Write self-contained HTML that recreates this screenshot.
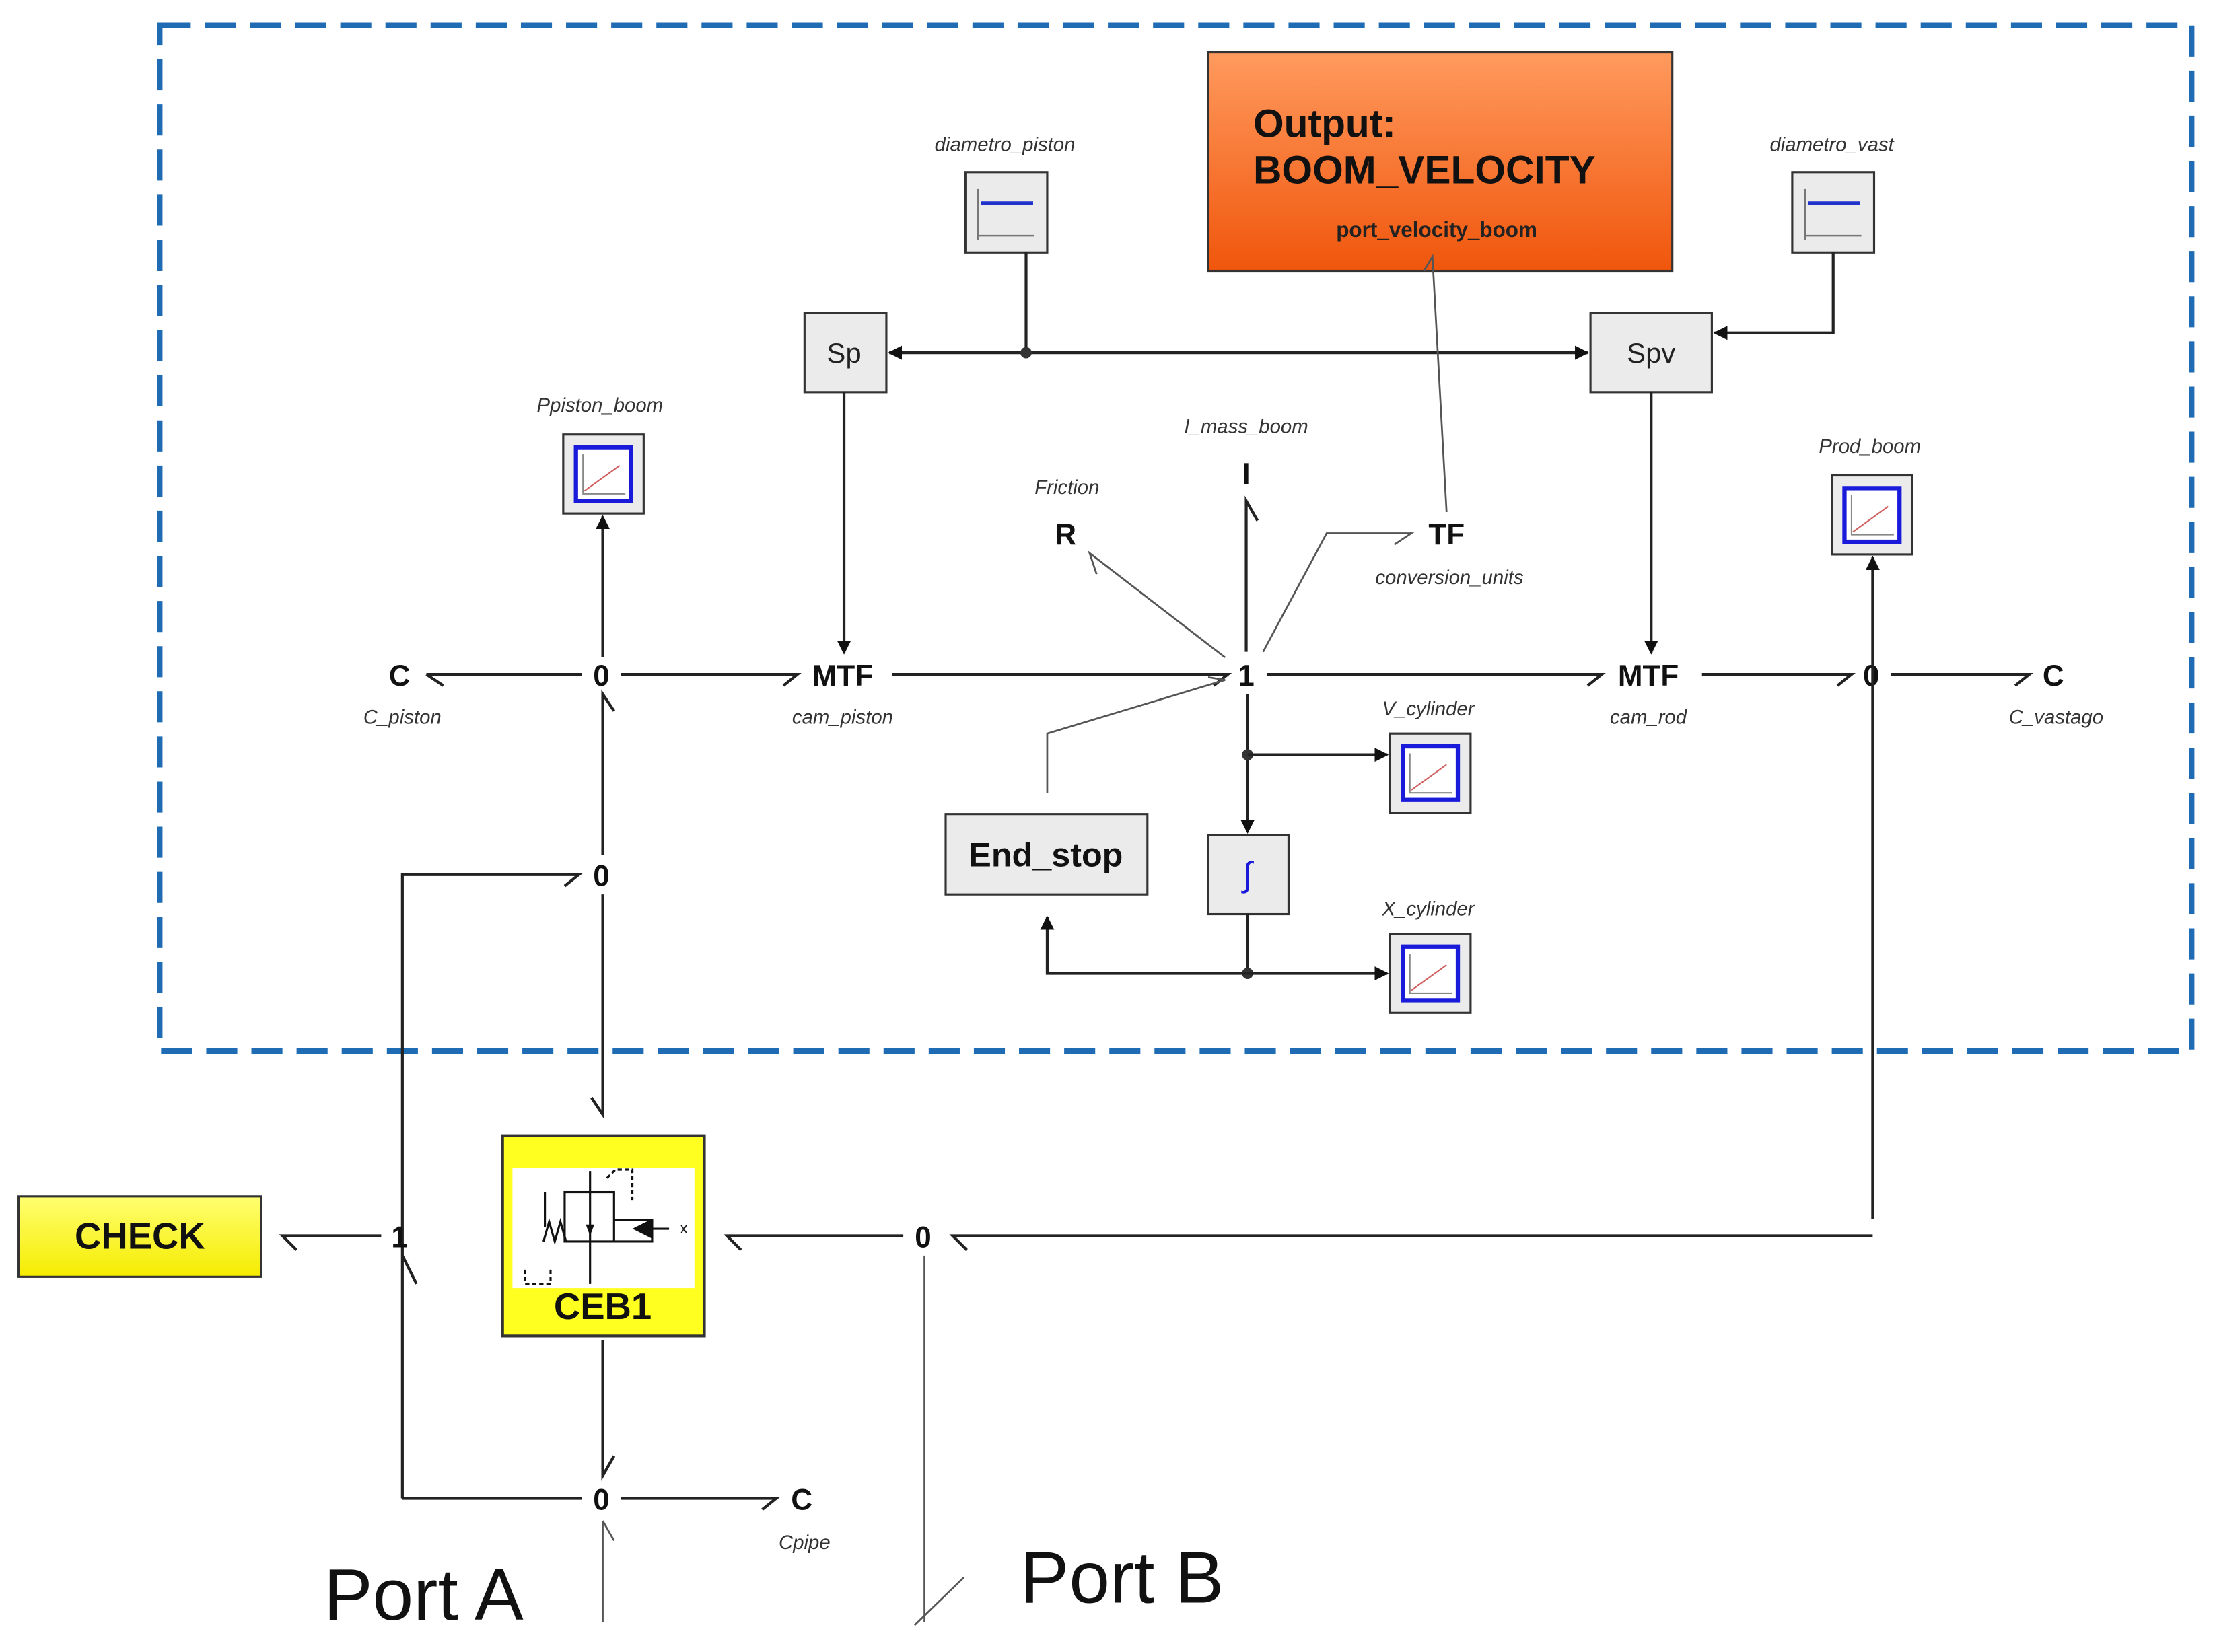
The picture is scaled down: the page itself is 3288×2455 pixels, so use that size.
<!DOCTYPE html>
<html><head><meta charset="utf-8"><style>
html,body{margin:0;padding:0;background:#fff;width:3288px;height:2455px;overflow:hidden}
svg{display:block}
text{font-family:"Liberation Sans",sans-serif}
.lbl{font-size:14px;font-style:italic;fill:#333;text-anchor:middle}
.nd{font-size:21px;font-weight:bold;fill:#111;text-anchor:middle}
.ln{stroke:#222;stroke-width:2;fill:none}
.th{stroke:#555;stroke-width:1.3;fill:none}
.blk{fill:#ebebeb;stroke:#333;stroke-width:1.5}
</style></head><body>
<svg width="3288" height="2455" viewBox="0 0 1568 1171" xmlns="http://www.w3.org/2000/svg">
<defs>
<linearGradient id="og" x1="0" y1="0" x2="0" y2="1"><stop offset="0" stop-color="#ff9a5e"/><stop offset="1" stop-color="#f0560c"/></linearGradient>
<linearGradient id="yg" x1="0" y1="0" x2="0" y2="1"><stop offset="0" stop-color="#ffff70"/><stop offset="1" stop-color="#f5ec00"/></linearGradient>
<marker id="ar" markerWidth="10" markerHeight="10" refX="9" refY="5" orient="auto" markerUnits="userSpaceOnUse"><path d="M0,0 L10,5 L0,10 z" fill="#111"/></marker>
<g id="plot"><rect x="0" y="0" width="57" height="56" class="blk"/><rect x="9" y="9" width="39" height="38" fill="#fff" stroke="#1a1adb" stroke-width="3"/><path d="M14,14 V42 H44" stroke="#888" stroke-width="1" fill="none"/><path d="M15,40 L40,22" stroke="#d06060" stroke-width="1"/></g>
<g id="cst"><rect x="0" y="0" width="58" height="57" class="blk"/><path d="M9,12 V48 M9,45 H49" stroke="#777" stroke-width="1.2" fill="none"/><path d="M11,22 H48" stroke="#2233cc" stroke-width="2.5"/></g>
</defs>

<rect x="113" y="18" width="1440" height="727" fill="none" stroke="#1f6cb4" stroke-width="4" stroke-dasharray="22,10"/>

<rect x="856" y="37" width="329" height="155" fill="url(#og)" stroke="#333" stroke-width="1.5"/>
<text x="888" y="97" font-size="28" font-weight="bold" fill="#111">Output:</text>
<text x="888" y="130" font-size="28" font-weight="bold" fill="#111">BOOM_VELOCITY</text>
<text x="1018" y="168" font-size="15" font-weight="bold" fill="#222" text-anchor="middle">port_velocity_boom</text>

<text x="712" y="107" class="lbl">diametro_piston</text>
<use href="#cst" x="684" y="122"/>
<text x="1298" y="107" class="lbl">diametro_vast</text>
<use href="#cst" x="1270" y="122"/>

<rect x="570" y="222" width="58" height="56" class="blk"/>
<text x="598" y="257" font-size="20" fill="#222" text-anchor="middle">Sp</text>
<rect x="1127" y="222" width="86" height="56" class="blk"/>
<text x="1170" y="257" font-size="20" fill="#222" text-anchor="middle">Spv</text>

<path class="ln" d="M727,179 V250"/>
<path class="ln" d="M727,250 H630" marker-end="url(#ar)"/>
<path class="ln" d="M727,250 H1125" marker-end="url(#ar)"/>
<circle cx="727" cy="250" r="4" fill="#333"/>
<path class="ln" d="M1299,179 V236 H1215" marker-end="url(#ar)"/>
<path class="ln" d="M598,278 V463" marker-end="url(#ar)"/>
<path class="ln" d="M1170,278 V463" marker-end="url(#ar)"/>

<text x="425" y="292" class="lbl">Ppiston_boom</text>
<use href="#plot" x="399" y="308"/>
<text x="1325" y="321" class="lbl">Prod_boom</text>
<use href="#plot" x="1298" y="337"/>

<text x="283" y="486" class="nd">C</text>
<text x="426" y="486" class="nd">0</text>
<text x="597" y="486" class="nd">MTF</text>
<text x="883" y="486" class="nd">1</text>
<text x="1168" y="486" class="nd">MTF</text>
<text x="1326" y="486" class="nd">0</text>
<text x="1455" y="486" class="nd">C</text>
<text x="285" y="513" class="lbl">C_piston</text>
<text x="597" y="513" class="lbl">cam_piston</text>
<text x="1168" y="513" class="lbl">cam_rod</text>
<text x="1457" y="513" class="lbl">C_vastago</text>
<path class="ln" d="M302,478 H412 M302,478 l12,8"/>
<path class="ln" d="M440,478 H565 l-10,8"/>
<path class="ln" d="M632,478 H870 l-10,8"/>
<path class="ln" d="M898,478 H1135 l-10,8"/>
<path class="ln" d="M1206,478 H1312 l-10,8"/>
<path class="ln" d="M1340,478 H1438 l-10,8"/>
<path class="ln" d="M427,466 V366" marker-end="url(#ar)"/>
<path class="ln" d="M1327,864 V395" marker-end="url(#ar)"/>
<path class="ln" d="M427,606 V492 l8,12"/>
<path class="ln" d="M427,634 V790 l-8,-12"/>

<text x="426" y="628" class="nd">0</text>
<path class="ln" d="M285,1062 V620 H410 l-10,8"/>

<text x="883" y="343" class="nd">I</text>
<text x="883" y="307" class="lbl">I_mass_boom</text>
<path class="ln" d="M883,462 V355 l8,14"/>
<text x="755" y="386" class="nd">R</text>
<text x="756" y="350" class="lbl">Friction</text>
<path class="th" d="M868,466 L772,392 l5,15"/>
<text x="1025" y="386" class="nd">TF</text>
<text x="1027" y="414" class="lbl">conversion_units</text>
<path class="th" d="M895,462 L940,378 H1000 l-12,8"/>
<path class="th" d="M1025,363 L1015,182 l-6,10"/>
<path class="th" d="M742,562 V520 L868,482 l-12,-2"/>

<rect x="670" y="577" width="143" height="57" class="blk"/>
<text x="741" y="614" font-size="24" font-weight="bold" fill="#111" text-anchor="middle">End_stop</text>

<path class="ln" d="M884,492 V590" marker-end="url(#ar)"/>
<circle cx="884" cy="535" r="4" fill="#333"/>
<path class="ln" d="M884,535 H983" marker-end="url(#ar)"/>
<rect x="856" y="592" width="57" height="56" class="blk"/>
<text x="884" y="628" font-size="24" font-style="italic" fill="#1a1adb" text-anchor="middle">∫</text>
<path class="ln" d="M884,648 V690"/>
<circle cx="884" cy="690" r="4" fill="#333"/>
<path class="ln" d="M884,690 H983" marker-end="url(#ar)"/>
<path class="ln" d="M884,690 H742 V650" marker-end="url(#ar)"/>
<text x="1012" y="507" class="lbl">V_cylinder</text>
<use href="#plot" x="985" y="520"/>
<text x="1012" y="649" class="lbl">X_cylinder</text>
<use href="#plot" x="985" y="662"/>

<rect x="13" y="848" width="172" height="57" fill="url(#yg)" stroke="#333" stroke-width="1.5"/>
<text x="99" y="885" font-size="26" font-weight="bold" fill="#111" text-anchor="middle">CHECK</text>
<text x="283" y="884" class="nd">1</text>
<path class="ln" d="M270,876 H200 l10,10"/>
<path class="ln" d="M285,890 l10,20"/>

<rect x="356" y="805" width="143" height="142" fill="#ffff20" stroke="#333" stroke-width="2"/>
<rect x="363" y="828" width="129" height="85" fill="#fff"/>
<g stroke="#111" stroke-width="1.5" fill="none">
<rect x="400" y="845" width="35" height="35"/>
<path d="M418,830 V910 M418,848 V875"/>
<path d="M435,865 H462 V880 H435"/>
<path d="M474,871 H450"/>
<path d="M385,880 l4,-14 l4,14 l4,-14 l4,14 M386,870 V845"/>
<path d="M372,900 V910 H390 V900" stroke-dasharray="3,2"/>
<path d="M430,835 l6,-6 h12 v22" stroke-dasharray="3,2"/>
</g>
<path d="M448,871 L462,864 V878 z" fill="#111"/>
<path d="M415,868 L421,868 L418,876 z" fill="#111"/>
<text x="482" y="874" font-size="10" fill="#111">x</text>
<text x="427" y="935" font-size="26" font-weight="bold" fill="#111" text-anchor="middle">CEB1</text>

<text x="654" y="884" class="nd">0</text>
<path class="ln" d="M640,876 H515 l10,10"/>
<path class="ln" d="M1327,876 H675 l10,10"/>
<path class="th" d="M655,890 V1150"/>

<text x="426" y="1070" class="nd">0</text>
<path class="ln" d="M285,1062 H412"/>
<path class="ln" d="M440,1062 H550 l-10,8"/>
<text x="568" y="1070" class="nd">C</text>
<text x="570" y="1098" class="lbl">Cpipe</text>
<path class="ln" d="M427,950 V1046 l8,-14"/>
<path class="th" d="M427,1078 V1150 M427,1078 l8,14"/>

<text x="300" y="1148" font-size="52" fill="#111" text-anchor="middle">Port A</text>
<text x="795" y="1136" font-size="52" fill="#111" text-anchor="middle">Port B</text>
<path class="th" d="M648,1152 L683,1118"/>
</svg>
</body></html>
